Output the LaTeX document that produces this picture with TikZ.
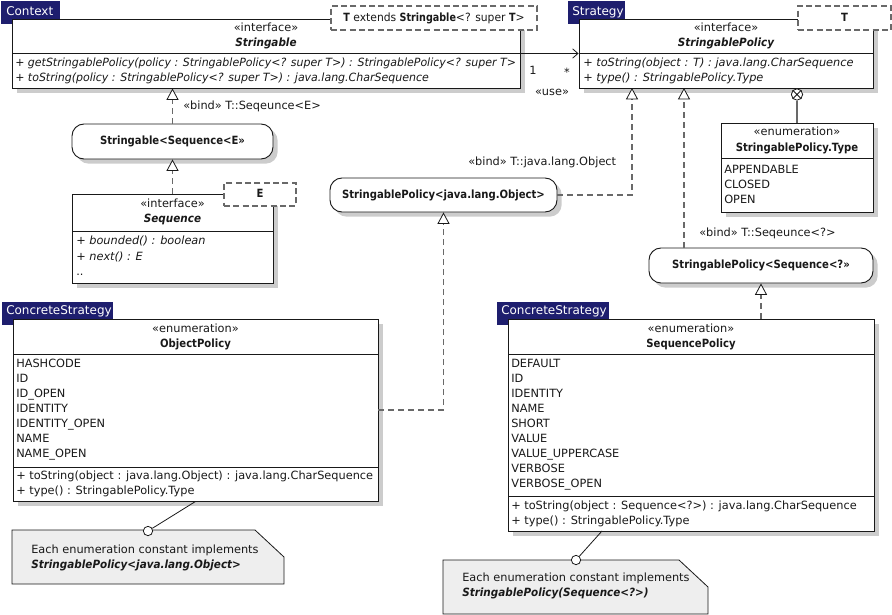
\documentclass[tikz,border=0pt]{standalone}
\usepackage{fontspec}
\usepackage{graphicx}
\setmainfont{DejaVu Sans}[BoldFeatures={FakeStretch=0.89},BoldItalicFeatures={FakeStretch=0.92}]
\usetikzlibrary{arrows.meta,shadows,fit,calc}
\definecolor{tabblue}{RGB}{30,30,110}
\definecolor{ink}{RGB}{25,25,25}
\definecolor{dashgray}{RGB}{105,105,105}
\definecolor{notefill}{RGB}{238,238,238}
\begin{document}
\begin{tikzpicture}[x=0.75pt,y=-0.75pt,
  every node/.style={font=\fontsize{8.5}{10}\selectfont, text=ink, inner sep=0pt},
  tx/.style={text height=6.6pt, text depth=1.8pt},
  shad/.style={drop shadow={shadow xshift=3.5pt, shadow yshift=-3.5pt, fill=black!20, opacity=1}},
  box/.style={draw=ink, fill=white, line width=0.7pt, shad},
  rbox/.style={draw=ink, fill=white, line width=0.7pt, rounded corners=9pt, shad},
  tab/.style={fill=tabblue, draw=tabblue},
  tabtext/.style={tx, anchor=west, text=white, font=\fontsize{9}{10}\selectfont},
  tmpl/.style={draw=dashgray, fill=white, line width=0.8pt, dash pattern=on 4.5pt off 2.5pt},
  lt/.style={tx, anchor=west},
  ct/.style={tx},
  sep/.style={draw=ink, line width=0.7pt},
  bind/.style={draw=dashgray, line width=0.8pt, dash pattern=on 4.5pt off 3pt,
    -{Triangle[width=9pt,length=8.5pt,color=ink,fill=white,line width=0.6pt]}},
  assoc/.style={draw=ink, line width=0.6pt, -{Straight Barb[length=4pt,width=7pt]}},
  note/.style={draw=ink, fill=notefill, line width=0.6pt},
  anch/.style={circle, draw=ink, fill=white, line width=0.6pt, minimum size=7pt}
]
\useasboundingbox (0,0) rectangle (892,614);

% ---------------- Context: Stringable ----------------
\node[tab, fit={(1,1)(59,23)}] (ctxtab) {};
\node[tabtext] (ctxlbl) at (6,12) {Context};
\node[box, fit={(12,19)(520,88)}] (strg) {};
\draw[sep] (12,53) -- (520,53);
\node[ct] (strgst) at (266,28) {«interface»};
\node[ct] (strgnm) at (266,43) {\bfseries\itshape Stringable};
\node[lt] (strgm1) at (15,63) {\scalebox{0.97}[1]{\itshape + getStringablePolicy(policy : StringablePolicy<? super T>) : StringablePolicy<? super T>}};
\node[lt] (strgm2) at (15,78) {\scalebox{0.97}[1]{\itshape + toString(policy : StringablePolicy<? super T>) : java.lang.CharSequence}};
\node[tmpl, fit={(331,6)(537,30)}] (strgT) {};
\node[ct] (strgTt) at (434,18) {\scalebox{0.95}[1]{\textbf{T} extends \textbf{Stringable}<? super \textbf{T}>}};

% ---------------- Strategy: StringablePolicy ----------------
\node[tab, fit={(568,1)(624,23)}] (sttab) {};
\node[tabtext] (stlbl) at (572,12) {Strategy};
\node[box, fit={(579,19)(873,88)}] (sp) {};
\draw[sep] (579,53) -- (873,53);
\node[ct] (spst) at (726,28) {«interface»};
\node[ct] (spnm) at (726,43) {\bfseries\itshape StringablePolicy};
\node[lt] (spm1) at (583,63) {\itshape + toString(object : T) : java.lang.CharSequence};
\node[lt] (spm2) at (583,78) {\itshape + type() : StringablePolicy.Type};
\node[tmpl, fit={(798,6)(891,30)}] (spT) {};
\node[ct] (spTt) at (844.5,18) {\bfseries T};

% association
\draw[assoc] (strg.east) -- (sp.west);
\node[ct] (m1) at (533,71) {1};
\node[ct] (m2) at (567,73) {*};
\node[ct] (use) at (552,92) {«use»};

% ---------------- Stringable<Sequence<E>> ----------------
\node[rbox, fit={(72,124)(273,159)}] (ss) {};
\node[ct] (sst) at (ss.center) {\bfseries Stringable<Sequence<E>>};
\draw[bind] (ss.north) -- (ss.north |- strg.south);
\node[lt] (b1) at (183,106) {«bind» T::Seqeunce<E>};

% ---------------- Sequence ----------------
\node[box, fit={(72,194)(273,283)}] (seq) {};
\draw[sep] (72,231) -- (273,231);
\node[ct] (seqst) at (172.5,204) {«interface»};
\node[ct] (seqnm) at (172.5,219) {\bfseries\itshape Sequence};
\node[lt] (seqm1) at (76,241) {\itshape + bounded() : boolean};
\node[lt] (seqm2) at (76,257) {\itshape + next() : E};
\node[lt] (seqm3) at (76,272) {..};
\node[tmpl, fit={(224,183)(296,206)}] (seqT) {};
\node[ct] (seqTt) at (260,194.5) {\bfseries E};
\draw[bind] (seq.north) -- (ss.south);

% ---------------- StringablePolicy<java.lang.Object> ----------------
\node[rbox, fit={(330,178)(557,212)}] (spo) {};
\node[ct] (spot) at (spo.center) {\bfseries StringablePolicy<java.lang.Object>};
\coordinate (t1) at (632,88);
\draw[bind] (spo.east) -| (t1);
\node[lt] (b2) at (468,162) {«bind» T::java.lang.Object};

% ---------------- StringablePolicy.Type ----------------
\node[box, fit={(721,123)(873,212)}] (ty) {};
\draw[sep] (721,158) -- (873,158);
\node[ct] (tyst) at (797,132) {«enumeration»};
\node[ct] (tynm) at (797,148) {\bfseries StringablePolicy.Type};
\node[lt] (ty1) at (724,170) {APPENDABLE};
\node[lt] (ty2) at (724,185) {CLOSED};
\node[lt] (ty3) at (724,200) {OPEN};
\node[circle, draw=ink, fill=white, line width=0.6pt, minimum size=8.5pt] (ox) at (797,94.5) {};
\draw[ink, line width=0.6pt] (ox.north east) -- (ox.south west) (ox.north west) -- (ox.south east);
\draw[dashgray, line width=0.8pt] (ox.south) -- (ty.north);

% ---------------- StringablePolicy<Sequence<?>> ----------------
\node[rbox, fit={(649,248)(873,283)}] (sps) {};
\node[ct] (spst2) at (sps.center) {\bfseries StringablePolicy<Sequence<?>>};
\coordinate (t2) at (684,88);
\draw[bind] (t2 |- sps.north) -- (t2);
\node[lt] (b3) at (699,233) {«bind» T::Seqeunce<?>};

% ---------------- ObjectPolicy ----------------
\node[tab, fit={(2,302)(112,324)}] (optab) {};
\node[tabtext] (oplbl) at (6,311) {ConcreteStrategy};
\node[box, fit={(13,319)(378,501)}] (op) {};
\draw[sep] (13,354) -- (378,354);
\draw[sep] (13,467) -- (378,467);
\node[ct] (opst) at (195.5,329) {«enumeration»};
\node[ct] (opnm) at (195.5,344) {\bfseries ObjectPolicy};
\foreach \t [count=\i from 0] in {HASHCODE,ID,ID\_OPEN,IDENTITY,IDENTITY\_OPEN,NAME,NAME\_OPEN}
  \node[lt] (opi\i) at (16,364+15*\i) {\t};
\node[lt] (opm1) at (16,476) {+ toString(object : java.lang.Object) : java.lang.CharSequence};
\node[lt] (opm2) at (16,491) {+ type() : StringablePolicy.Type};
\draw[bind] (op.east) -| (spo.south);

% ---------------- SequencePolicy ----------------
\node[tab, fit={(497,302)(608,324)}] (sqtab) {};
\node[tabtext] (sqlbl) at (501,311) {ConcreteStrategy};
\node[box, fit={(508,319)(874,531)}] (sqp) {};
\draw[sep] (508,354) -- (874,354);
\draw[sep] (508,496) -- (874,496);
\node[ct] (sqst) at (691,329) {«enumeration»};
\node[ct] (sqnm) at (691,344) {\bfseries SequencePolicy};
\foreach \t [count=\i from 0] in {DEFAULT,ID,IDENTITY,NAME,SHORT,VALUE,VALUE\_UPPERCASE,VERBOSE,VERBOSE\_OPEN}
  \node[lt] (sqi\i) at (511,364+15*\i) {\t};
\node[lt] (sqm1) at (511,506) {+ toString(object : Sequence<?>) : java.lang.CharSequence};
\node[lt] (sqm2) at (511,521) {+ type() : StringablePolicy.Type};
\draw[bind] (sps.south |- sqp.north) -- (sps.south);

% ---------------- Notes ----------------
\draw[note] (12,530) -- (255,530) -- (284,557) -- (284,584) -- (12,584) -- cycle;
\node[lt] (n1a) at (31,550) {Each enumeration constant implements};
\node[lt] (n1b) at (31,565) {\bfseries\itshape StringablePolicy<java.lang.Object>};
\node[anch] (c1) at (148,531) {};
\draw[ink, line width=0.6pt] (op.south) -- (c1);

\draw[note] (443,560) -- (679,560) -- (708,587) -- (708,614) -- (443,614) -- cycle;
\node[lt] (n2a) at (462,578) {Each enumeration constant implements};
\node[lt] (n2b) at (462,593) {\bfseries\itshape StringablePolicy(Sequence<?>)};
\coordinate (a2) at (602,531);
\node[anch] (c2) at (576,560) {};
\draw[ink, line width=0.6pt] (a2) -- (c2);
\end{tikzpicture}
\end{document}
